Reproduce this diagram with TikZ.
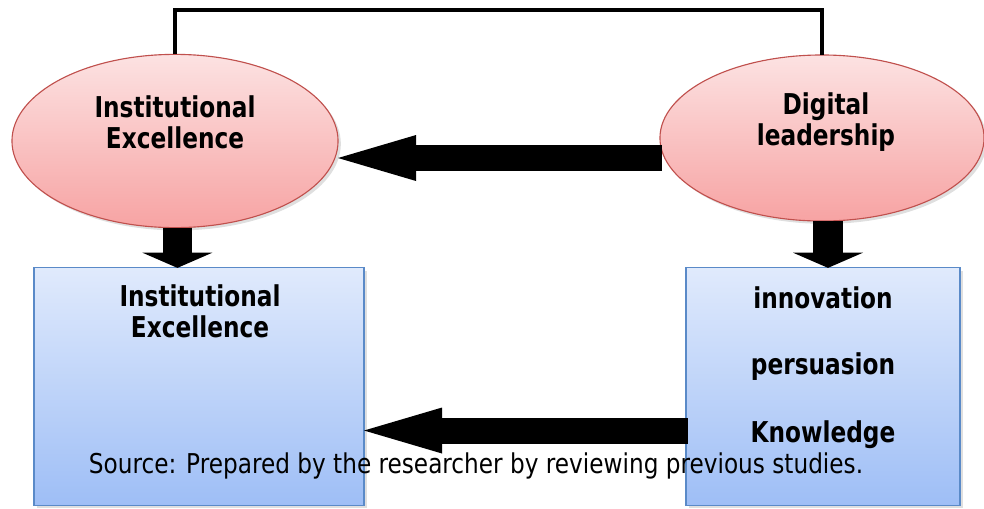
\documentclass[tikz,border=0pt]{standalone}
\usepackage{fontspec}
\setmainfont{DejaVu Sans}
\newfontfamily\labelfont[FakeStretch=0.81]{DejaVu Sans}
\newfontfamily\notefont[FakeStretch=0.85]{DejaVu Sans}
\usetikzlibrary{arrows.meta,shapes.geometric,shadows}

\definecolor{ovaltop}{HTML}{FCE2E2}
\definecolor{ovalbot}{HTML}{F7A3A3}
\definecolor{ovalline}{HTML}{C0504D}
\definecolor{paneltop}{HTML}{E0EAFC}
\definecolor{panelbot}{HTML}{9EBEF6}
\definecolor{panelline}{HTML}{5A8AC8}

\tikzset{
  oval/.style={ellipse,draw=ovalline,line width=0.8pt,top color=ovaltop,bottom color=ovalbot,
    inner sep=0pt,outer sep=0pt,
    drop shadow={opacity=0.25,shadow xshift=2pt,shadow yshift=-2pt}},
  panel/.style={rectangle,draw=panelline,line width=0.8pt,top color=paneltop,bottom color=panelbot,
    inner sep=0pt,outer sep=0pt,
    drop shadow={opacity=0.25,shadow xshift=2pt,shadow yshift=-2pt}},
  tag/.style={font=\labelfont\bfseries\fontsize{20.4}{22.3}\selectfont,align=center,inner sep=0pt},
  note/.style={font=\notefont\fontsize{19.4}{22}\selectfont,inner sep=0pt},
  link/.style={line width=2.8pt},
  bigarrow/.style={line width=0.65cm,-{Triangle[length=1.95cm,width=1.15cm,line width=0pt]}},
  droparrow/.style={line width=0.73cm,-{Triangle[length=0.38cm,width=1.75cm,line width=0pt]}}
}

\begin{document}
\begin{tikzpicture}[x=0.025cm,y=-0.025cm]
\useasboundingbox (0,0) rectangle (984,508);
\def\Ytop{10}
% ---------- ellipses ----------
\node[oval,minimum width=8.15cm,minimum height=4.33cm] (ie) at (175,141) {};
\node[oval,minimum width=8.1cm,minimum height=4.15cm] (dl) at (822,138) {};
\node[tag] (ietxt) at (175,122.5) {Institutional\\Excellence};
\node[tag] (dltxt) at (826,122) {Digital\\leadership};
% ---------- boxes ----------
\node[panel,minimum width=8.25cm,minimum height=5.93cm] (ieb) at (199,386.5) {};
\node[panel,minimum width=6.85cm,minimum height=5.93cm] (dims) at (823,386.5) {};
\node[tag] (iebtxt) at (200,311) {Institutional\\Excellence};
\foreach \k/\word/\y in {1/innovation/298,2/persuasion/367,3/Knowledge/435}{
  \node[tag] (dim\k) at (823,\y) {\word};
}
% ---------- top link ----------
\coordinate (lt) at (ie.north |- 0,\Ytop);
\draw[link] (ie.north) -- (lt) -| (dl.north);
% ---------- horizontal arrows ----------
\coordinate (mid) at ([yshift=-0.5cm]dl.west);
\draw[bigarrow] ([xshift=0.05cm]mid) -- (mid -| ie.east);
\coordinate (low) at ([yshift=-1.1cm]dims.west);
\draw[bigarrow] ([xshift=0.05cm]low) -- (low -| ieb.east);
% ---------- down arrows ----------
\draw[droparrow] ([xshift=0.06cm]ie.south) -- ([xshift=0.06cm]ie.south |- ieb.north);
\draw[droparrow] ([xshift=0.15cm]dl.south) -- ([xshift=0.15cm]dl.south |- dims.north);
% ---------- source line ----------
\node[note] (src) at (476,466) {Source: Prepared by the researcher by reviewing previous studies.};
\end{tikzpicture}
\end{document}
